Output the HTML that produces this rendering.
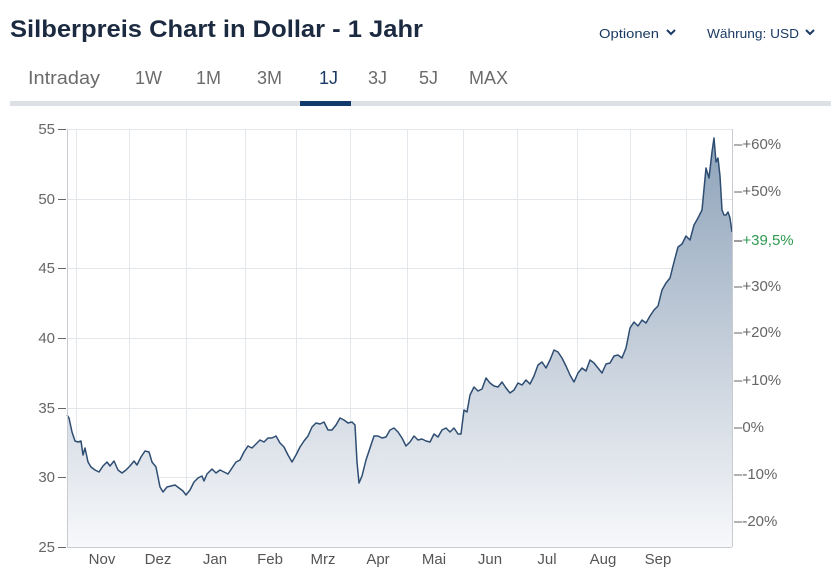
<!DOCTYPE html>
<html><head><meta charset="utf-8"><style>
html,body{margin:0;padding:0;background:#fff;}
svg{display:block;font-family:"Liberation Sans",sans-serif;}
</style></head><body>
<svg width="838" height="579" viewBox="0 0 838 579" xmlns="http://www.w3.org/2000/svg">
<defs>
<linearGradient id="g" x1="0" y1="0" x2="0" y2="1" gradientUnits="userSpaceOnUse" x1a="0" >
</linearGradient>
<linearGradient id="fill" gradientUnits="userSpaceOnUse" x1="0" y1="140" x2="0" y2="547">
<stop offset="0" stop-color="#8ea3ba"/><stop offset="0.55" stop-color="#c9d2dd"/><stop offset="1" stop-color="#f7f8fa"/>
</linearGradient>
</defs>
<text x="10" y="37" font-size="24" font-weight="bold" fill="#1b2a40" textLength="413" lengthAdjust="spacingAndGlyphs">Silberpreis Chart in Dollar - 1 Jahr</text>
<text x="599" y="38" font-size="13" fill="#1b3a63" textLength="60" lengthAdjust="spacingAndGlyphs">Optionen</text>
<path d="M667 30 l4 4 l4 -4" stroke="#1b3a63" stroke-width="2" fill="none"/>
<text x="707" y="38" font-size="13" fill="#1b3a63" textLength="92" lengthAdjust="spacingAndGlyphs">Währung: USD</text>
<path d="M806 30 l4 4 l4 -4" stroke="#1b3a63" stroke-width="2" fill="none"/>
<g font-size="18" fill="#6b6b6b">
<text x="28" y="84" textLength="72" lengthAdjust="spacingAndGlyphs">Intraday</text>
<text x="135" y="84">1W</text>
<text x="196" y="84">1M</text>
<text x="257" y="84">3M</text>
<text x="319" y="84" fill="#1b3a63">1J</text>
<text x="368" y="84">3J</text>
<text x="419" y="84">5J</text>
<text x="469" y="84" textLength="39" lengthAdjust="spacingAndGlyphs">MAX</text>
</g>
<rect x="10" y="101" width="821" height="5" fill="#dde0e4"/>
<rect x="300" y="101" width="51" height="5" fill="#123a6b"/>
<g stroke="#e3e6ea" stroke-width="1">
<line x1="67" y1="129.5" x2="732" y2="129.5"/><line x1="67" y1="199.5" x2="732" y2="199.5"/>
<line x1="67" y1="268.5" x2="732" y2="268.5"/><line x1="67" y1="338.5" x2="732" y2="338.5"/>
<line x1="67" y1="408.5" x2="732" y2="408.5"/><line x1="67" y1="477.5" x2="732" y2="477.5"/>
<line x1="76.5" y1="129" x2="76.5" y2="547"/><line x1="129.5" y1="129" x2="129.5" y2="547"/>
<line x1="186.5" y1="129" x2="186.5" y2="547"/><line x1="245.5" y1="129" x2="245.5" y2="547"/>
<line x1="296.5" y1="129" x2="296.5" y2="547"/><line x1="350.5" y1="129" x2="350.5" y2="547"/>
<line x1="407.5" y1="129" x2="407.5" y2="547"/><line x1="463.5" y1="129" x2="463.5" y2="547"/>
<line x1="517.5" y1="129" x2="517.5" y2="547"/><line x1="577.5" y1="129" x2="577.5" y2="547"/>
<line x1="630.5" y1="129" x2="630.5" y2="547"/><line x1="686.5" y1="129" x2="686.5" y2="547"/>
</g>
<path fill="url(#fill)" d="M67,415 L69,418 72,432 75,441 78,442 81,441 83,455 85,448 88,462 91,467 95,470 99,472 103,466 107,462 110,466 114,461 118,470 122,473 126,470 130,466 134,461 137,465 141,457 145,451 149,452 152,462 156,467 160,487 163,492 167,487 171,486 175,485 179,488 183,491 186,495 190,490 194,482 198,478 202,476 204,481 207,474 212,469 216,473 220,470 224,472 228,474 232,468 236,462 240,460 244,452 248,446 252,448 256,444 260,440 264,442 268,438 272,438 276,436 280,443 284,447 288,455 292,462 296,455 300,447 304,441 308,436 312,427 316,423 320,424 324,422 328,430 332,430 336,425 340,418 344,420 348,423 352,422 355,425 357,462 359,483 362,476 366,460 370,448 374,436 378,436 382,438 386,437 390,430 394,428 398,432 402,438 406,446 410,442 414,436 418,440 422,439 426,441 430,442 434,434 438,437 442,430 446,428 450,432 454,428 458,434 461,434 464,410 467,412 470,395 474,387 478,391 482,389 486,378 490,383 494,386 498,387 502,382 506,388 510,393 514,390 518,383 522,385 526,380 530,384 534,376 538,365 542,362 546,368 550,360 554,350 558,352 562,358 566,366 570,375 574,382 578,373 582,368 586,371 590,360 594,363 598,368 602,373 606,364 610,363 614,356 618,355 622,358 626,348 630,328 634,322 638,326 642,320 646,323 650,316 654,310 658,306 662,290 666,283 670,278 674,262 678,247 682,244 686,236 690,240 694,225 698,218 702,210 706,168 709,178 712,152 714,138 716,162 718,158 720,176 722,210 724,215 726,215 728,212 730,218 732,232 L732,547 L67,547 Z"/>
<polyline fill="none" stroke="#2e4d72" stroke-width="1.5" stroke-linejoin="round" points="67,415 69,418 72,432 75,441 78,442 81,441 83,455 85,448 88,462 91,467 95,470 99,472 103,466 107,462 110,466 114,461 118,470 122,473 126,470 130,466 134,461 137,465 141,457 145,451 149,452 152,462 156,467 160,487 163,492 167,487 171,486 175,485 179,488 183,491 186,495 190,490 194,482 198,478 202,476 204,481 207,474 212,469 216,473 220,470 224,472 228,474 232,468 236,462 240,460 244,452 248,446 252,448 256,444 260,440 264,442 268,438 272,438 276,436 280,443 284,447 288,455 292,462 296,455 300,447 304,441 308,436 312,427 316,423 320,424 324,422 328,430 332,430 336,425 340,418 344,420 348,423 352,422 355,425 357,462 359,483 362,476 366,460 370,448 374,436 378,436 382,438 386,437 390,430 394,428 398,432 402,438 406,446 410,442 414,436 418,440 422,439 426,441 430,442 434,434 438,437 442,430 446,428 450,432 454,428 458,434 461,434 464,410 467,412 470,395 474,387 478,391 482,389 486,378 490,383 494,386 498,387 502,382 506,388 510,393 514,390 518,383 522,385 526,380 530,384 534,376 538,365 542,362 546,368 550,360 554,350 558,352 562,358 566,366 570,375 574,382 578,373 582,368 586,371 590,360 594,363 598,368 602,373 606,364 610,363 614,356 618,355 622,358 626,348 630,328 634,322 638,326 642,320 646,323 650,316 654,310 658,306 662,290 666,283 670,278 674,262 678,247 682,244 686,236 690,240 694,225 698,218 702,210 706,168 709,178 712,152 714,138 716,162 718,158 720,176 722,210 724,215 726,215 728,212 730,218 732,232"/>
<g stroke="#c8ccd2" stroke-width="1">
<line x1="67.5" y1="129" x2="67.5" y2="547"/>
<line x1="732.5" y1="129" x2="732.5" y2="547"/>
<line x1="67" y1="547.5" x2="732" y2="547.5"/>
</g>
<g stroke="#666" stroke-width="1">
<line x1="58" y1="129.5" x2="66" y2="129.5"/><line x1="58" y1="199.5" x2="66" y2="199.5"/>
<line x1="58" y1="268.5" x2="66" y2="268.5"/><line x1="58" y1="338.5" x2="66" y2="338.5"/>
<line x1="58" y1="408.5" x2="66" y2="408.5"/><line x1="58" y1="477.5" x2="66" y2="477.5"/>
<line x1="58" y1="547.5" x2="66" y2="547.5"/>
</g>
<g font-size="15" fill="#666" text-anchor="end">
<text x="55" y="134">55</text><text x="55" y="204">50</text><text x="55" y="273">45</text>
<text x="55" y="343">40</text><text x="55" y="413">35</text><text x="55" y="482">30</text><text x="55" y="552">25</text>
</g>
<g font-size="15" fill="#666">
<text x="734" y="149">–+60%</text><text x="734" y="196">–+50%</text>
<text x="734" y="245" fill="#3a3a3a">–<tspan fill="#2e9a4e">+39,5%</tspan></text>
<text x="734" y="291">–+30%</text><text x="734" y="337">–+20%</text><text x="734" y="385">–+10%</text>
<text x="734" y="432">–0%</text><text x="734" y="479">–-10%</text><text x="734" y="526">–-20%</text>
</g>
<g font-size="15" fill="#555" text-anchor="middle">
<text x="102" y="564">Nov</text><text x="158" y="564">Dez</text><text x="215" y="564">Jan</text>
<text x="270" y="564">Feb</text><text x="323" y="564">Mrz</text><text x="378" y="564">Apr</text>
<text x="434" y="564">Mai</text><text x="490" y="564">Jun</text><text x="547" y="564">Jul</text>
<text x="603" y="564">Aug</text><text x="658" y="564">Sep</text>
</g>
</svg>
</body></html>
